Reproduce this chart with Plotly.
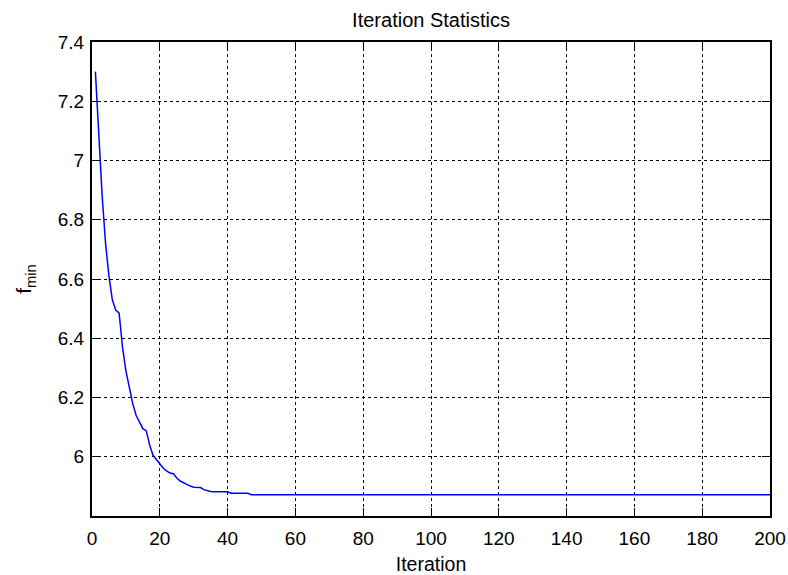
import plotly.graph_objects as go

# Best objective value per iteration (iteration 47 onward stays constant)
iterations = [1, 2, 3, 4, 5, 6, 7, 8, 9, 10, 11, 12, 13, 14, 15, 16, 17, 18, 19, 20,
              21, 22, 23, 24, 25, 26, 27, 28, 29, 30, 31, 32, 33, 34, 35, 36, 40, 41,
              46, 47, 200]
f_min = [7.30, 7.08, 6.88, 6.72, 6.61, 6.53, 6.495, 6.485, 6.37, 6.29,
         6.23, 6.18, 6.14, 6.115, 6.095, 6.088, 6.04, 6.005, 5.99, 5.975,
         5.962, 5.952, 5.945, 5.943, 5.928, 5.918, 5.912, 5.906, 5.901, 5.897,
         5.897, 5.896, 5.889, 5.885, 5.883, 5.882, 5.882, 5.877,
         5.877, 5.872, 5.872]

x_ticks = [0, 20, 40, 60, 80, 100, 120, 140, 160, 180, 200]
y_ticks = [6.0, 6.2, 6.4, 6.6, 6.8, 7.0, 7.2, 7.4]

FONT = "Liberation Sans, Arial, sans-serif"

fig = go.Figure()
fig.add_trace(go.Scatter(
    x=iterations, y=f_min, mode="lines",
    line=dict(color="#0000ff", width=1.5),
    showlegend=False,
))

axis_common = dict(
    showline=True, linecolor="black", linewidth=2, mirror="ticks",
    ticks="inside", ticklen=8, tickwidth=1, tickcolor="black",
    showgrid=True, gridcolor="black", gridwidth=1, griddash="dot",
    zeroline=False, automargin=False,
    tickfont=dict(family=FONT, size=19, color="black"),
)

fig.update_xaxes(
    range=[0, 200], tickvals=x_ticks, ticklabelstandoff=4,
    title=dict(text="Iteration", font=dict(family=FONT, size=19.5, color="black"), standoff=14),
    **axis_common,
)
fig.update_yaxes(
    range=[5.8, 7.4], tickvals=y_ticks, ticklabelstandoff=2,
    title=dict(text="f<sub>min</sub>", font=dict(family=FONT, size=21, color="black"), standoff=20),
    **axis_common,
)

fig.update_layout(
    width=788, height=575,
    margin=dict(l=92, r=18, t=42, b=59, autoexpand=False),
    paper_bgcolor="white", plot_bgcolor="white",
    title=dict(text="Iteration Statistics", x=0.547, xanchor="center", y=0.966, yanchor="middle",
               font=dict(family=FONT, size=20, color="black")),
    font=dict(family=FONT, color="black"),
)

fig.write_html("out.html")
